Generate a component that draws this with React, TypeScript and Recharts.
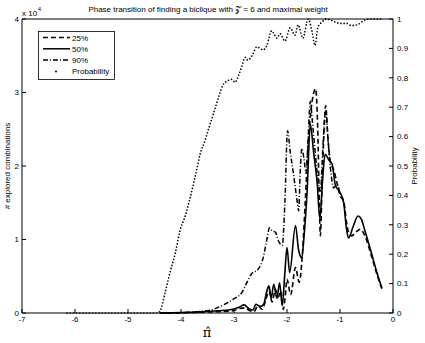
import React from 'react';
import { LineChart, Line, XAxis, YAxis, Legend, Customized } from 'recharts';

const W = 425;
const H = 343;

const xTicks = [-7, -6, -5, -4, -3, -2, -1, 0];
const leftTicks = [0, 1, 2, 3, 4];
const rightTicks = [0, 0.1, 0.2, 0.3, 0.4, 0.5, 0.6, 0.7, 0.8, 0.9, 1];

const seriesNames = ['25%', '50%', '90%', 'Probability'];

// # explored combinations (x 10^4)
const x25 = [-4.4, -3.64, -3.02, -2.9, -2.8, -2.7, -2.62, -2.55, -2.47, -2.4, -2.34, -2.28, -2.22, -2.16, -2.12, -2.07, -2.03, -2.0, -1.93, -1.84, -1.77, -1.71, -1.66, -1.6, -1.54, -1.46, -1.42, -1.39, -1.37, -1.34, -1.3, -1.27, -1.23, -1.18, -1.12, -1.05, -1.0, -0.93, -0.88, -0.84, -0.78, -0.7, -0.62, -0.53, -0.4, -0.3, -0.21];
const v25 = [0, 0.01, 0.03, 0.06, 0.07, 0.03, 0.02, 0.1, 0.05, 0.18, 0.3, 0.15, 0.32, 0.22, 0.3, 0.05, 0.25, 0.46, 0.25, 0.62, 0.42, 0.8, 1.45, 2.3, 2.8, 3.05, 2.5, 1.5, 1.05, 1.7, 2.5, 2.82, 2.4, 2.05, 1.95, 1.75, 1.6, 1.52, 1.25, 1.1, 1.05, 1.1, 1.14, 1.05, 0.76, 0.52, 0.33];

const x50 = [-4.4, -4.0, -3.64, -3.3, -3.02, -2.9, -2.81, -2.72, -2.64, -2.59, -2.5, -2.44, -2.38, -2.34, -2.3, -2.25, -2.19, -2.14, -2.09, -2.04, -2.0, -1.95, -1.84, -1.78, -1.72, -1.68, -1.62, -1.56, -1.5, -1.43, -1.38, -1.33, -1.28, -1.21, -1.15, -1.09, -1.0, -0.93, -0.88, -0.84, -0.75, -0.66, -0.6, -0.53, -0.4, -0.3, -0.21];
const v50 = [0, 0.005, 0.015, 0.03, 0.05, 0.08, 0.11, 0.06, 0.04, 0.12, 0.09, 0.12, 0.3, 0.37, 0.2, 0.39, 0.2, 0.41, 0.1, 0.55, 0.89, 0.55, 1.19, 0.85, 0.75, 1.03, 1.66, 2.57, 2.2, 1.76, 1.28, 1.8, 2.16, 2.08, 2.03, 1.75, 1.64, 1.5, 1.16, 1.02, 1.18, 1.32, 1.28, 1.12, 0.8, 0.54, 0.34];

const x90 = [-4.3, -4.0, -3.64, -3.39, -3.2, -3.01, -2.85, -2.76, -2.67, -2.54, -2.45, -2.38, -2.33, -2.28, -2.22, -2.16, -2.09, -2.04, -1.99, -1.94, -1.87, -1.81, -1.78, -1.75, -1.72, -1.68, -1.64, -1.6, -1.56, -1.52, -1.47, -1.42, -1.37, -1.32, -1.27, -1.22, -1.17, -1.12, -1.06, -1.0];
const v90 = [0, 0.005, 0.02, 0.05, 0.11, 0.19, 0.28, 0.41, 0.53, 0.6, 0.75, 1.0, 1.16, 1.12, 1.1, 0.98, 0.92, 1.5, 2.48, 2.2, 1.85, 1.53, 1.39, 1.94, 2.24, 2.1, 1.9, 2.4, 2.88, 2.6, 2.2, 1.85, 1.66, 2.3, 2.75, 2.3, 1.9, 1.7, 1.75, 1.62];

// Probability (right axis)
const probX = [-6.15, -5.6, -5.2, -4.8, -4.45, -4.4, -4.3, -4.21, -4.1, -4.02, -3.92, -3.83, -3.75, -3.7, -3.64, -3.55, -3.49, -3.42, -3.35, -3.28, -3.21, -3.12, -3.04, -2.98, -2.91, -2.85, -2.79, -2.74, -2.66, -2.57, -2.5, -2.45, -2.38, -2.29, -2.19, -2.13, -2.04, -1.94, -1.85, -1.79, -1.7, -1.6, -1.53, -1.47, -1.42, -1.34, -1.25, -1.09, -1.0, -0.87, -0.79, -0.68, -0.55, -0.45, -0.3, -0.2];
const probV = [0, 0, 0, 0, 0, 0.005, 0.07, 0.136, 0.21, 0.28, 0.33, 0.39, 0.45, 0.49, 0.54, 0.585, 0.62, 0.66, 0.7, 0.74, 0.775, 0.79, 0.795, 0.785, 0.81, 0.84, 0.87, 0.86, 0.875, 0.905, 0.9, 0.895, 0.91, 0.96, 0.935, 0.95, 0.925, 0.97, 0.945, 0.98, 0.935, 1.0, 0.96, 0.91, 0.97, 0.99, 1.0, 0.99, 0.985, 0.985, 0.978, 0.98, 0.995, 1.0, 1.0, 1.0];

const FONT = "'Liberation Sans', Arial, Helvetica, sans-serif";

const toRows = (xs: number[], vs: number[]) => xs.map((x, i) => ({ x, v: vs[i] }));

const dashes = ['5 3', undefined, '5 2 1 2'];

const LegendBox = () => (
  <svg width={77} height={49} style={{ display: 'block' }}>
    <rect x={0.5} y={0.5} width={76} height={48} fill="#fff" stroke="#000" strokeWidth={0.8} />
    {seriesNames.map((name, i) => {
      const y = 6.5 + i * 11.3;
      return (
        <g key={name}>
          {i < 3 ? (
            <line x1={5} x2={32} y1={y} y2={y} stroke="#000" strokeWidth={1.5} strokeDasharray={dashes[i]} />
          ) : (
            <circle cx={18} cy={y} r={1} fill="#000" />
          )}
          <text x={34} y={y + 3} fontSize={8} fontFamily={FONT} fill="#000">{name}</text>
        </g>
      );
    })}
  </svg>
);

const Annotations = () => (
  <g fontFamily={FONT} fill="#000">
    <text x={208} y={12} fontSize={8} textAnchor="middle">Phase transition of finding a biclique with 𝒵 = 6 and maximal weight</text>
    <text x={22} y={16} fontSize={8}>x 10</text>
    <text x={38} y={11} fontSize={5.5}>4</text>
    <text transform="translate(10,166) rotate(-90)" fontSize={8} textAnchor="middle">#  explored combinations</text>
    <text transform="translate(417,166) rotate(-90)" fontSize={8} textAnchor="middle">Probability</text>
    <text x={207} y={337} fontSize={13} textAnchor="middle" fontFamily="'DejaVu Serif', serif">π̂</text>
  </g>
);

export default function App() {
  const d25 = toRows(x25, v25);
  const d50 = toRows(x50, v50);
  const d90 = toRows(x90, v90);
  const dp = toRows(probX, probV);
  const tickStyle = { fontSize: 8, fill: '#000', fontFamily: FONT };
  return (
    <div style={{ position: 'absolute', left: 0, top: 0, width: W, height: H, background: '#fff' }}>
      <LineChart width={W} height={H} margin={{ top: 0, right: 0, bottom: 0, left: 0 }}>
        <XAxis xAxisId="b" dataKey="x" type="number" domain={[-7, 0]} ticks={xTicks} interval={0}
          orientation="bottom" height={30} tickSize={-4} tickMargin={7} tick={tickStyle}
          stroke="#000" axisLine={{ stroke: '#000' }} tickLine={{ stroke: '#000' }} />
        <XAxis xAxisId="t" dataKey="x" type="number" domain={[-7, 0]} ticks={xTicks} interval={0}
          orientation="top" height={19} tickSize={-4} tick={false}
          stroke="#000" axisLine={{ stroke: '#000' }} tickLine={{ stroke: '#000' }} />
        <YAxis yAxisId="l" type="number" domain={[0, 4]} ticks={leftTicks} interval={0}
          width={22} tickSize={-4} tickMargin={7} tick={tickStyle}
          stroke="#000" axisLine={{ stroke: '#000' }} tickLine={{ stroke: '#000' }} />
        <YAxis yAxisId="r" orientation="right" type="number" domain={[0, 1]} ticks={rightTicks} interval={0}
          width={32} tickSize={-4} tickMargin={8} tick={tickStyle}
          stroke="#000" axisLine={{ stroke: '#000' }} tickLine={{ stroke: '#000' }} />
        <Line xAxisId="b" yAxisId="r" data={dp} dataKey="v" name={seriesNames[3]} type="monotone"
          stroke="#000" strokeWidth={1.7} strokeDasharray="0 3.2" strokeLinecap="round" dot={false}
          isAnimationActive={false} />
        <Line xAxisId="b" yAxisId="l" data={d90} dataKey="v" name={seriesNames[2]} type="monotone"
          stroke="#000" strokeWidth={1.5} strokeDasharray="5 2 1 2" dot={false} isAnimationActive={false} />
        <Line xAxisId="b" yAxisId="l" data={d25} dataKey="v" name={seriesNames[0]} type="monotone"
          stroke="#000" strokeWidth={1.6} strokeDasharray="5 3" dot={false} isAnimationActive={false} />
        <Line xAxisId="b" yAxisId="l" data={d50} dataKey="v" name={seriesNames[1]} type="monotone"
          stroke="#000" strokeWidth={1.6} dot={false} isAnimationActive={false} />
        <Legend layout="vertical" align="center" verticalAlign="middle"
          wrapperStyle={{ left: 38, top: 31, width: 77, height: 49 }}
          content={() => <LegendBox />} />
        <Customized component={Annotations} />
      </LineChart>
    </div>
  );
}
